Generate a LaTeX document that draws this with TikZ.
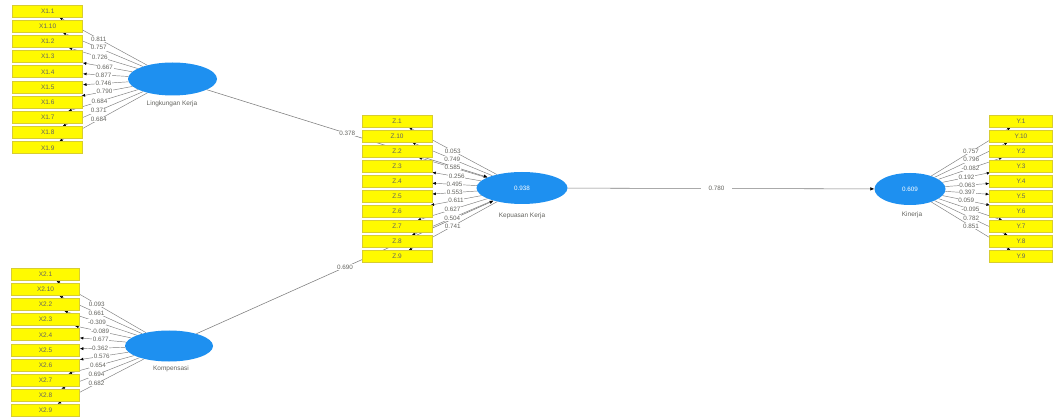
\documentclass[tikz,border=0pt]{standalone}
\usepackage{fontspec}
\setmainfont{Liberation Sans}
\usetikzlibrary{arrows.meta,shapes.geometric}
\definecolor{lvblue}{RGB}{30,144,240}
\definecolor{indyellow}{RGB}{255,250,0}
\definecolor{indborder}{RGB}{215,205,50}
\definecolor{linegray}{RGB}{125,125,125}
\definecolor{txtgray}{RGB}{100,100,95}
\pgfdeclarelayer{bg}
\pgfsetlayers{bg,main}
\tikzset{
  ind/.style={draw=indborder, fill=indyellow, line width=0.6pt, minimum height=12pt, inner sep=0pt,
    font=\fontsize{6.5}{7}\selectfont, text=txtgray},
  indL/.style={ind, minimum width=70pt},
  indK/.style={ind, minimum width=68pt},
  indZ/.style={ind, minimum width=70pt},
  indY/.style={ind, minimum width=63pt},
  lv/.style={ellipse, fill=lvblue, inner sep=0pt, text=white, font=\fontsize{6.3}{7}\selectfont},
  lvname/.style={font=\fontsize{6.5}{7.5}\selectfont, text=txtgray, inner sep=0pt},
  load/.style={draw=linegray, line width=0.45pt, -{Latex[length=3.5pt,width=3pt,color=black]}},
  pathc/.style={draw=linegray, line width=0.55pt, -{Latex[length=4pt,width=3.5pt,color=black]}},
  lab/.style={fill=white, inner sep=0.6pt, font=\fontsize{6.3}{7}\selectfont, text=txtgray}
}
\begin{document}
\begin{tikzpicture}[x=1pt,y=-1pt]
\useasboundingbox (0,0) rectangle (1054,419);
\begin{pgfonlayer}{bg}
\fill[white] (0,0) rectangle (1054,419);
\end{pgfonlayer}

% latent variables
\node[lv, minimum width=89pt, minimum height=33pt] (lk) at (172.5,79) {};
\node[lvname] (lkn) at (172,104) {Lingkungan Kerja};
\node[lv, minimum width=88pt, minimum height=31pt] (kom) at (169,346) {};
\node[lvname] (komn) at (171,369) {Kompensasi};
\node[lv, minimum width=91pt, minimum height=32pt] (kk) at (522,188) {0.938};
\node[lvname] (kkn) at (522,216) {Kepuasan Kerja};
\node[lv, minimum width=71pt, minimum height=32pt] (kin) at (910,189) {0.609};
\node[lvname] (kinn) at (912,215) {Kinerja};

% indicators
\foreach \t [count=\i from 0] in {X1.1,X1.10,X1.2,X1.3,X1.4,X1.5,X1.6,X1.7,X1.8,X1.9}
  \node[indL] (x1-\i) at (47.7,{11+15.2*\i}) {\t};
\foreach \t [count=\i from 0] in {X2.1,X2.10,X2.2,X2.3,X2.4,X2.5,X2.6,X2.7,X2.8,X2.9}
  \node[indK] (x2-\i) at (45.5,{274.5+15.06*\i}) {\t};
\foreach \t [count=\i from 0] in {Z.1,Z.10,Z.2,Z.3,Z.4,Z.5,Z.6,Z.7,Z.8,Z.9}
  \node[indZ] (z-\i) at (397,{121+15.08*\i}) {\t};
\foreach \t [count=\i from 0] in {Y.1,Y.10,Y.2,Y.3,Y.4,Y.5,Y.6,Y.7,Y.8,Y.9}
  \node[indY] (y-\i) at (1021,{121+15.08*\i}) {\t};

% outer loadings
\foreach \v [count=\i from 0] in {0.811,0.757,0.726,0.667,0.877,0.746,0.790,0.684,0.371,0.684}{
  \begin{pgfonlayer}{bg}\draw[load] (lk) -- (x1-\i);\end{pgfonlayer}
  \path (lk) -- (x1-\i) node[lab,pos=0.55] {\v};
}
\foreach \v [count=\i from 0] in {0.093,0.661,-0.309,-0.089,0.677,0.362,0.576,0.654,0.694,0.682}{
  \begin{pgfonlayer}{bg}\draw[load] (kom) -- (x2-\i);\end{pgfonlayer}
  \path (kom) -- (x2-\i) node[lab,pos=0.55] {\v};
}
\foreach \v [count=\i from 0] in {0.053,0.749,0.585,0.256,0.495,0.553,0.611,0.627,0.504,0.741}{
  \begin{pgfonlayer}{bg}\draw[load] (kk) -- (z-\i);\end{pgfonlayer}
  \path (kk) -- (z-\i) node[lab,pos=0.5] {\v};
}
\foreach \v [count=\i from 0] in {0.757,0.796,-0.082,0.192,0.063,0.397,0.059,-0.095,0.782,0.851}{
  \begin{pgfonlayer}{bg}\draw[load] (kin) -- (y-\i);\end{pgfonlayer}
  \path (kin) -- (y-\i) node[lab,pos=0.5] {\v};
}

% path coefficients
\begin{pgfonlayer}{bg}
\draw[pathc] (lk) -- (kk);
\draw[pathc] (kom) -- (kk);
\draw[pathc] (kk) -- (kin);
\end{pgfonlayer}
\path (lk) -- (kk) node[lab,pos=0.5] {0.378};
\path (kom) -- (kk) node[lab,pos=0.5] {0.690};
\path (kk) -- (kin) node[lab,pos=0.485,inner xsep=8pt] {0.780};
\end{tikzpicture}
\end{document}
